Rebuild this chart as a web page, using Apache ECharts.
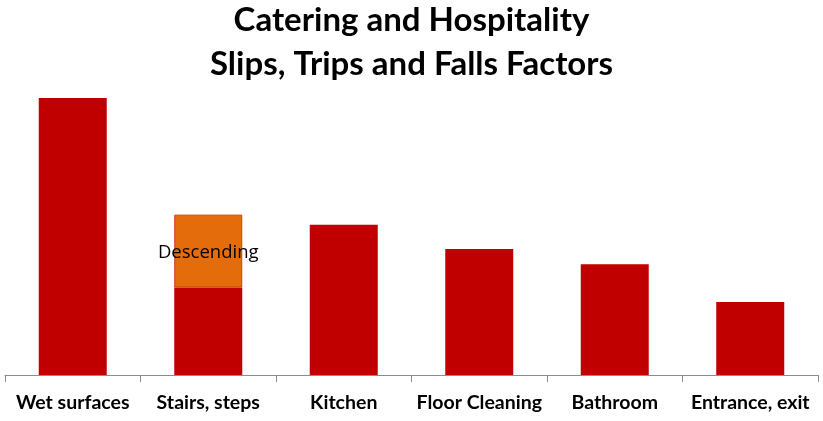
<!DOCTYPE html>
<html><head><meta charset="utf-8">
<script src="https://cdn.jsdelivr.net/npm/echarts@6/dist/echarts.min.js"></script>
<style>html,body{margin:0;padding:0;background:#fff}#c{width:823px;height:421px}</style>
</head><body><div id="c"></div>
<script>
const categories = ['Wet surfaces', 'Stairs, steps', 'Kitchen', 'Floor Cleaning', 'Bathroom', 'Entrance, exit'];
const baseValues = [38, 12, 20.6, 17.3, 15.2, 10];
const descendingValues = [null, 10, null, null, null, null];
const descendingLabel = 'Descending';

const chart = echarts.init(document.getElementById('c'));
chart.setOption({
  animation: false,
  title: {
    text: 'Catering and Hospitality\nSlips, Trips and Falls Factors',
    left: 'center', top: -2, padding: 0,
    textStyle: { fontFamily: 'Lato', fontWeight: 'bold', fontSize: 33, lineHeight: 44, color: '#000' }
  },
  grid: { left: 5, right: 5, top: 98, bottom: 46 },
  xAxis: {
    type: 'category', data: categories,
    axisLine: { lineStyle: { color: '#8c8c8c', width: 1 } },
    axisTick: { show: true, length: 7, lineStyle: { color: '#8c8c8c' } },
    axisLabel: { fontFamily: 'Lato', fontWeight: 'bold', fontSize: 19.5, color: '#000', margin: 18, interval: 0 }
  },
  yAxis: { type: 'value', min: 0, max: 38, show: false, splitLine: { show: false } },
  series: [
    { type: 'bar', stack: 's', data: baseValues, barWidth: 68, itemStyle: { color: '#C00000' } },
    { type: 'bar', stack: 's', data: descendingValues, barWidth: 68,
      itemStyle: { color: '#E46C0A', borderColor: '#C8410A', borderWidth: 1 },
      label: { show: true, position: 'inside', offset: [0, 2], formatter: descendingLabel, fontFamily: 'Open Sans', fontSize: 18.5, color: '#000' } }
  ]
});
</script></body></html>
